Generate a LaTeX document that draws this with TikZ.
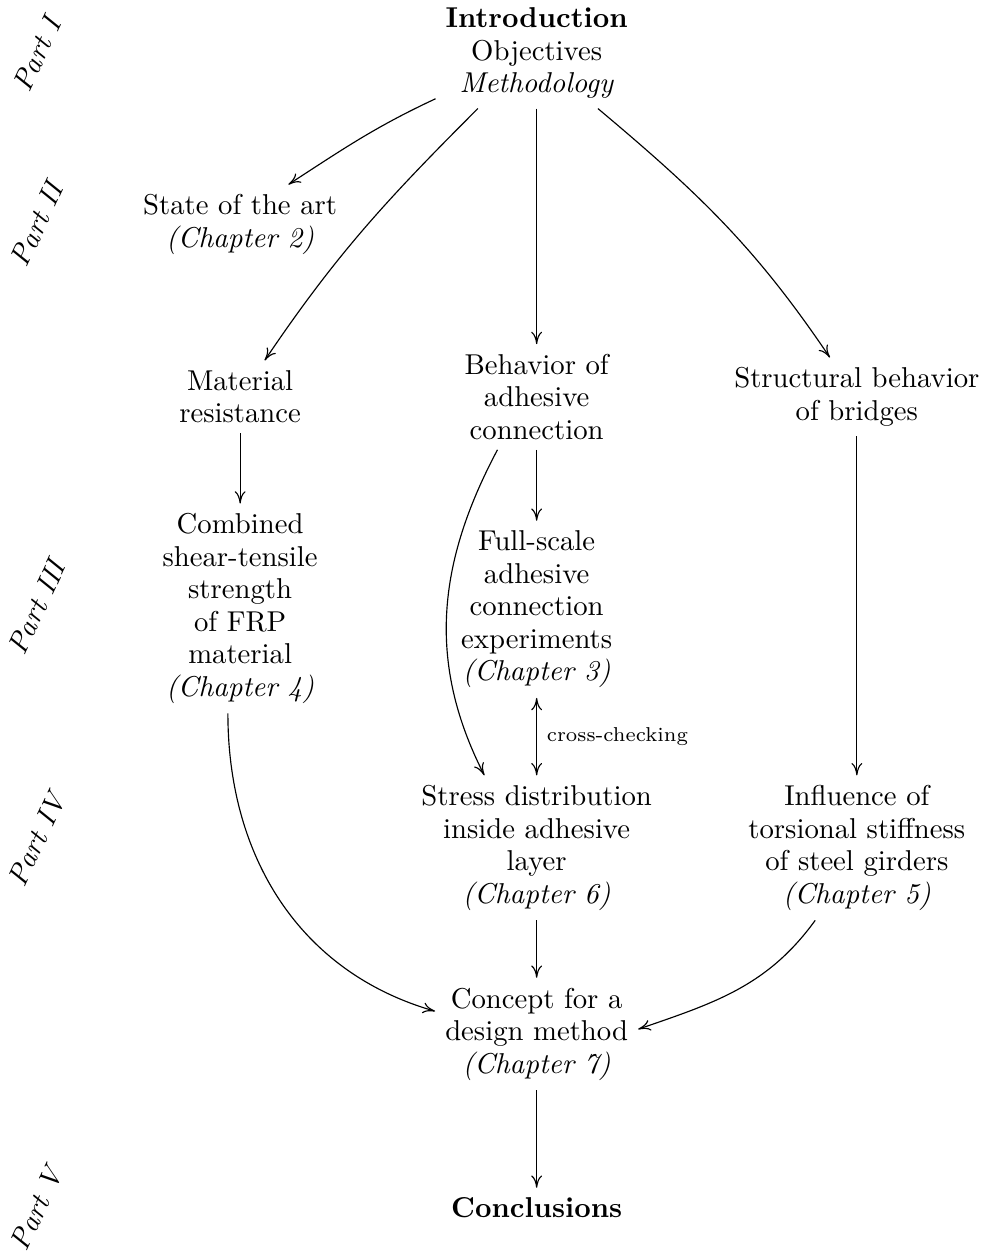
\documentclass[tikz,border=0pt]{standalone}
\usepackage{amssymb,amsmath}
\usepackage{tikz}
\usetikzlibrary{calc,arrows.meta}

\begin{document}
\begin{tikzpicture}[>={To[length=4.3pt,width=3.8pt]},
		box/.style={align=center, font=\fontsize{10pt}{11.3pt}\selectfont},
		part/.style={rotate=65, font=\itshape}]
		\useasboundingbox (0,0) rectangle (12.07,-15.34);
		\def\xl{2.94}\def\xm{6.57}\def\xr{10.49}
		% ---- part labels on the left ----
		\foreach \p/\y in {I/-0.67, II/-2.75, III/-7.44, IV/-10.28, V/-14.8}
			\node[part] (part-\p) at (0.45,\y) {Part \p};
		% ---- nodes ----
		\node[box] (intro) at (\xm,-0.65) {\textbf{Introduction}\\ Objectives\\ \textit{Methodology}};
		\node[box] (state) at (\xl,-2.75) {State of the art\\ \textit{(Chapter 2)}};
		\node[box] (material) at (\xl,-4.86) {Material\\ resistance};
		\node[box] (behavior) at (\xm,-4.86) {Behavior of\\ adhesive\\ connection};
		\node[box] (structural) at (\xr,-4.86) {Structural behavior\\ of bridges};
		\node[box] (combined) at (\xl,-7.45) {Combined\\ shear-tensile\\ strength\\ of FRP\\ material\\ \textit{(Chapter 4)}};
		\node[box] (full) at (\xm,-7.46) {Full-scale\\ adhesive\\ connection\\ experiments\\ \textit{(Chapter 3)}};
		\node[box] (stress) at (\xm,-10.38) {Stress distribution\\ inside adhesive\\ layer\\ \textit{(Chapter 6)}};
		\node[box] (influence) at (\xr,-10.38) {Influence of\\ torsional stiffness\\ of steel girders\\ \textit{(Chapter 5)}};
		\node[box] (concept) at (\xm,-12.66) {Concept for a\\ design method\\ \textit{(Chapter 7)}};
		\node[box] (conclusions) at (\xm,-14.79) {\textbf{Conclusions}};
		% ---- from the introduction ----
		\draw[->] ([yshift=0.12cm]intro.south west) to[out=205,in=33] ([xshift=0.59cm]state.north);
		\draw[->] ([xshift=-0.72cm]intro.south) to[out=225,in=56] ([xshift=0.3cm]material.north);
		\draw[->] (intro) -- (behavior);
		\draw[->] ([xshift=0.75cm]intro.south) to[out=-40,in=124] ([xshift=-0.33cm]structural.north);
		% ---- middle rows ----
		\draw[->] (material) -- (combined);
		\draw[->] (behavior) -- (full);
		\draw[->] ([xshift=-0.48cm]behavior.south) to[out=242,in=117] ([xshift=-0.64cm]stress.north);
		\draw[<->] (full) -- node[right, font=\scriptsize] {cross-checking} (stress);
		\draw[->] (structural) -- (influence);
		% ---- towards the conclusions ----
		\draw[->] ([xshift=-0.15cm]combined.south) to[out=-90,in=164] ([yshift=0.28cm]concept.west);
		\draw[->] (stress) -- (concept);
		\draw[->] ([xshift=-0.51cm]influence.south) to[out=234,in=19] ([yshift=0.06cm]concept.east);
		\draw[->] (concept) -- (conclusions);
	\end{tikzpicture}
\end{document}
